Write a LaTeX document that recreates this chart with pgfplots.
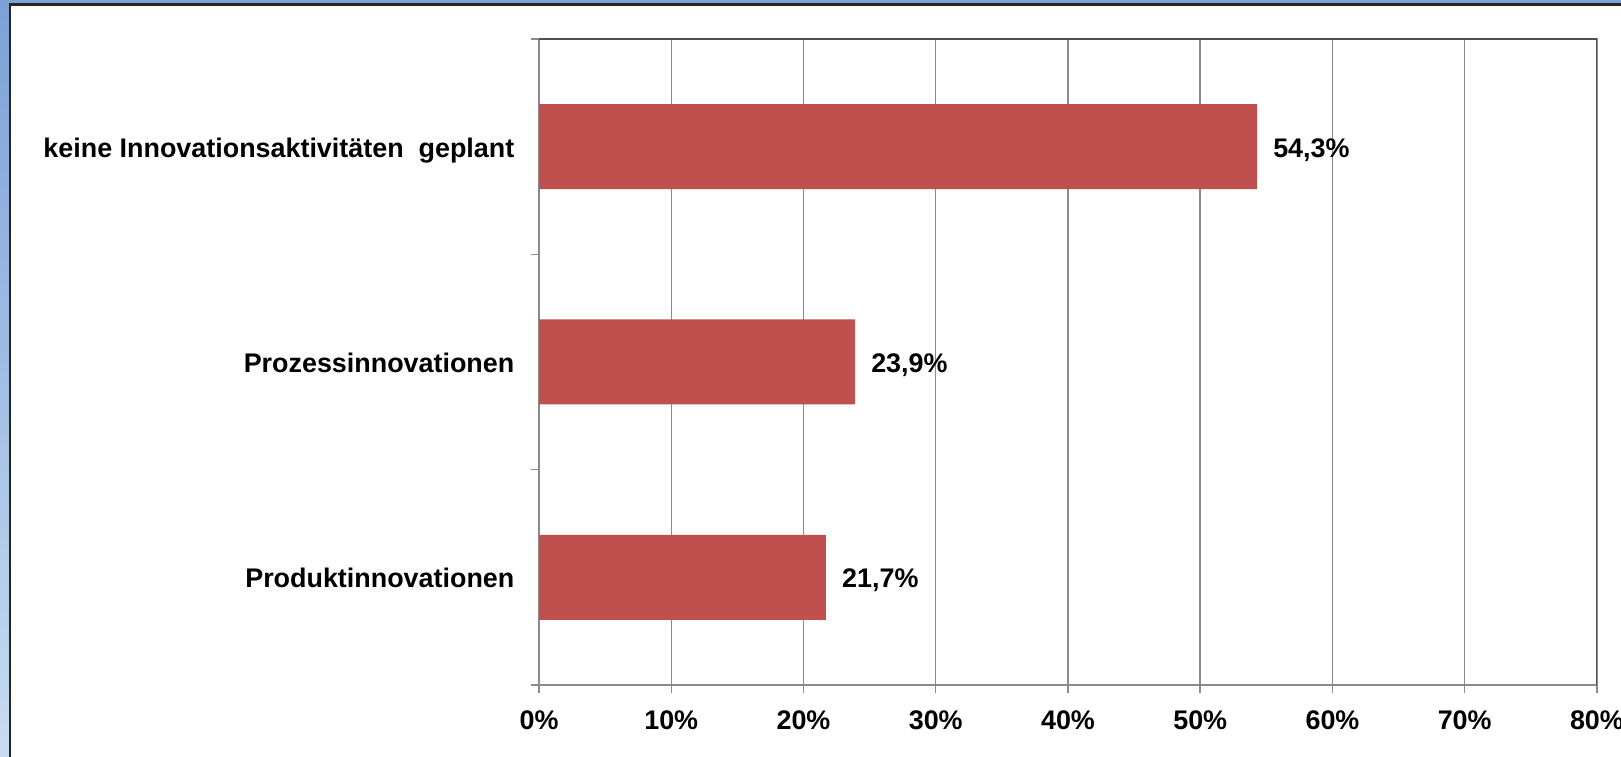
\documentclass[border=0pt]{standalone}
\usepackage{fontspec}
\setmainfont{Liberation Sans}
\usepackage{pgfplots}
\pgfplotsset{compat=1.18}
\definecolor{barred}{HTML}{C0504D}
\definecolor{gridgray}{HTML}{8A8A8A}
\definecolor{framedark}{HTML}{505050}
\definecolor{bluetop}{HTML}{7CA1D7}
\definecolor{bluebot}{HTML}{C6DCF1}

\begin{document}
\begin{tikzpicture}[x=1bp,y=1bp]
\useasboundingbox (0,0) rectangle (1621,757);
\clip (0,0) rectangle (1621,757);
\fill[white] (0,0) rectangle (1621,757);
% blue window border, left and top
\shade[top color=bluetop, bottom color=bluebot] (0,0) rectangle (9,757);
\fill[bluetop] (0,753.5) rectangle (1621,757);
\fill[black!85] (8.8,0) rectangle (11.3,753.6);
\fill[black!85] (8.8,751.3) rectangle (1621,753.6);
\begin{axis}[
  at={(539bp,72bp)}, anchor=south west,
  width=1058bp, height=646bp, scale only axis,
  xbar, bar width=85bp,
  xmin=0, xmax=80, ymin=0.5, ymax=3.5,
  /pgf/number format/assume math mode=true,
  xtick={0,10,...,80},
  xticklabels={0\%,10\%,20\%,30\%,40\%,50\%,60\%,70\%,80\%},
  ytick={0.5,1.5,2.5,3.5},
  yticklabels={},
  xtick pos=bottom, ytick pos=left,
  extra y ticks={1,2,3},
  extra y tick labels={Produktinnovationen,Prozessinnovationen,keine Innovationsaktivitäten\ \ geplant},
  extra y tick style={
    ytick style={draw=none},
    yticklabel style={anchor=base east, inner sep=0pt, xshift=-16bp, yshift=-10.5bp},
  },
  xticklabel style={anchor=base, inner sep=0pt, yshift=-36bp},
  tick label style={font=\bfseries\fontsize{27}{32}\selectfont},
  tick align=outside,
  major tick length=8.5bp,
  tick style={gridgray, line width=1.5bp},
  xmajorgrids=true,
  ymajorgrids=false,
  grid style={gridgray, line width=1.5bp},
  axis line style={gridgray, line width=2bp},
  nodes near coords={\pgfmathprintnumber[fixed, fixed zerofill, precision=1, use comma]{\pgfplotspointmeta}\%},
  nodes near coords style={anchor=base west, inner sep=0pt, xshift=16bp, yshift=-10.5bp,
    font=\bfseries\fontsize{27}{32}\selectfont, text=black},
]
\addplot[fill=barred, draw=none] coordinates {(21.7,1) (23.9,2) (54.3,3)};
\draw[framedark, line width=2.5bp] (rel axis cs:0,1) -- (rel axis cs:1,1) -- (rel axis cs:1,0);
\end{axis}
\end{tikzpicture}
\end{document}
